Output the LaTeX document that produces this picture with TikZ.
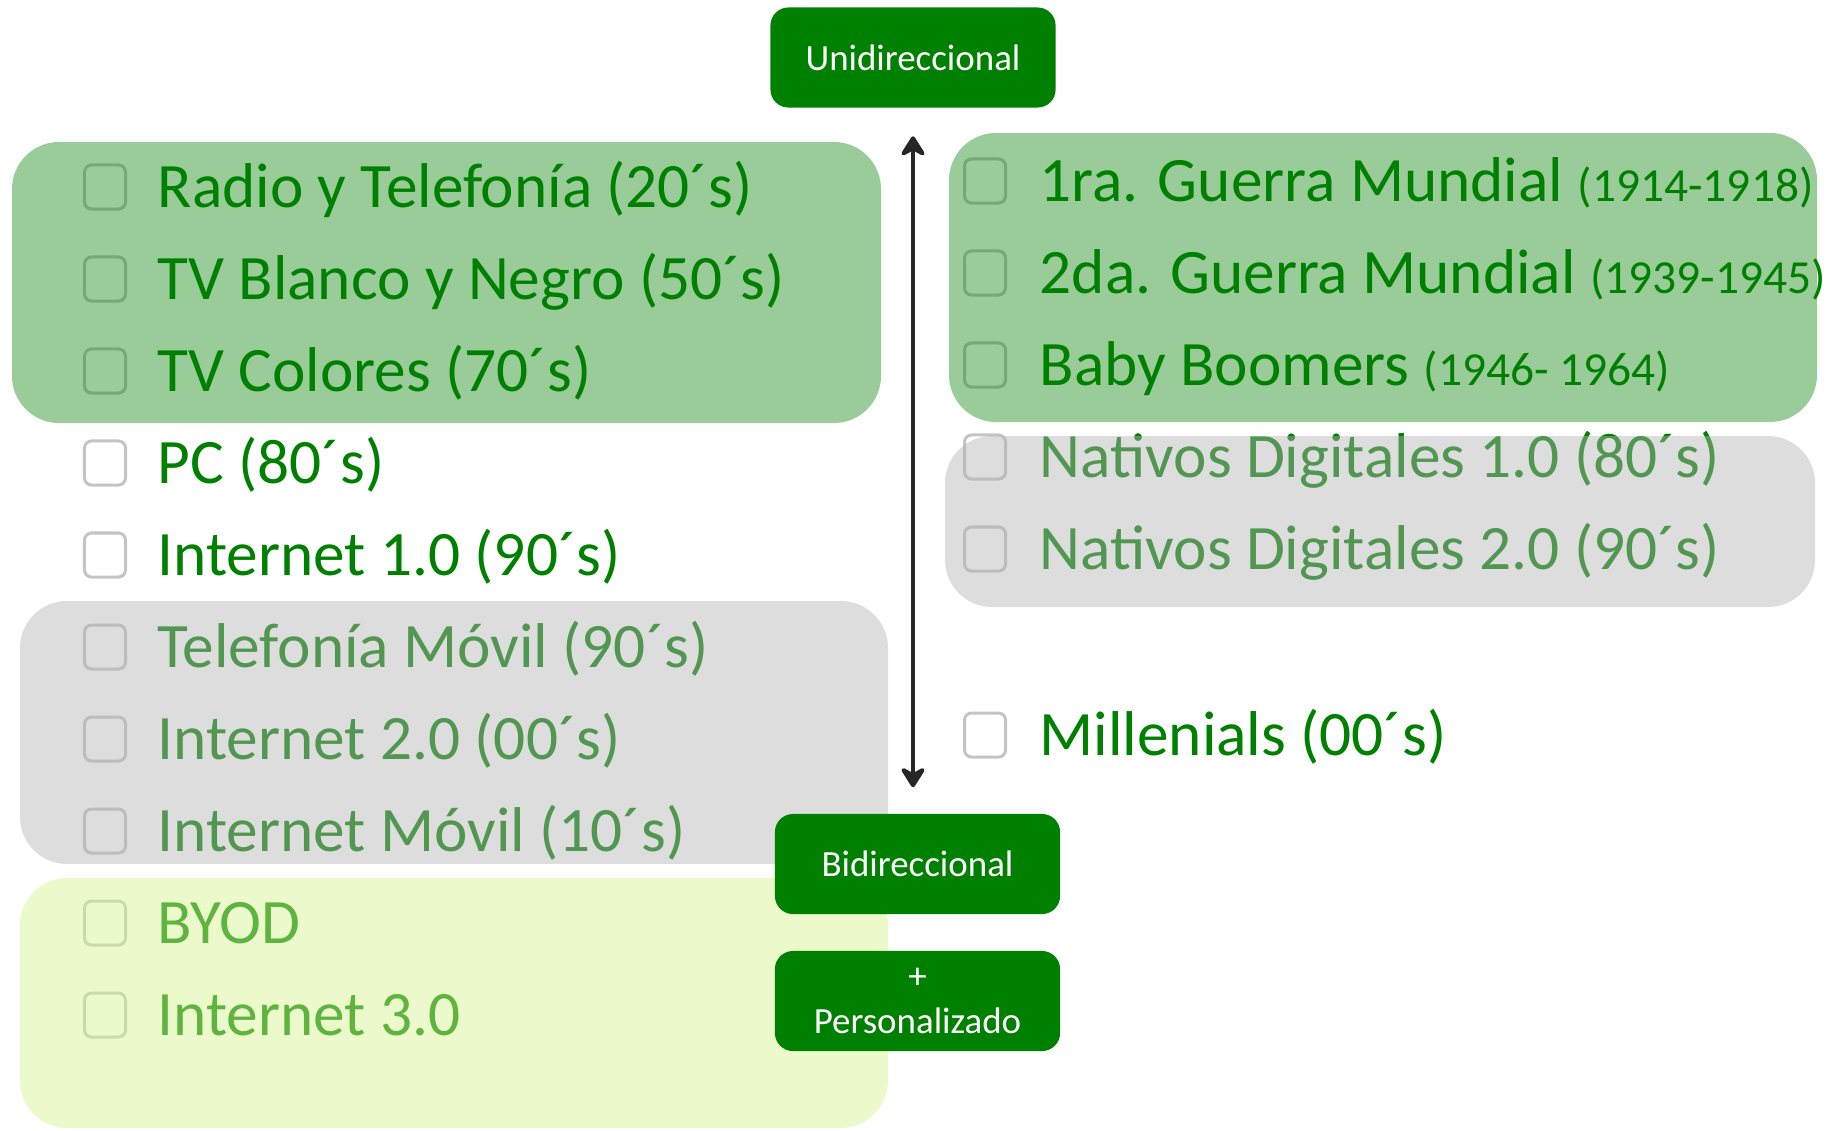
\documentclass[tikz,border=0pt]{standalone}
\usepackage{fontspec}
\setmainfont{Carlito}
\usetikzlibrary{arrows.meta}
\definecolor{verde}{RGB}{0,128,0}
\definecolor{caja}{RGB}{196,196,196}
\definecolor{gris}{RGB}{180,180,180}
\definecolor{lima}{RGB}{212,245,140}
\definecolor{flecha}{RGB}{38,38,38}
\newcommand{\periodo}[1]{{\fontsize{13.5}{15}\selectfont #1}}
\begin{document}
\begin{tikzpicture}[x=0.01cm, y=-0.01cm,
    chk/.style={draw=caja, fill=white, line width=0.03cm, rounded corners=0.07cm,
      minimum width=0.41cm, minimum height=0.44cm, inner sep=0},
    item/.style={anchor=base west, inner sep=0, text=verde,
      font=\fontsize{18}{20}\selectfont},
    etiqueta/.style={fill=verde, text=white, rounded corners=0.18cm,
      minimum width=2.85cm, minimum height=1.0cm, align=center,
      font=\fontsize{10.5}{12.6}\selectfont}]
  \useasboundingbox (0,0) rectangle (1843,1130);
  % tecnologias
  \draw
    (105,187) node[chk] (c1){}
    (105,279) node[chk] (c2){}
    (105,371) node[chk] (c3){}
    (105,463) node[chk] (c4){}
    (105,555) node[chk] (c5){}
    (105,647) node[chk] (c6){}
    (105,739) node[chk] (c7){}
    (105,831) node[chk] (c8){}
    (105,923) node[chk] (c9){}
    (105,1015) node[chk] (c10){};
  \draw
    (157,207) node[item] (t1){Radio y Telefonía (20´s)}
    (157,299) node[item] (t2){TV Blanco y Negro (50´s)}
    (157,391) node[item] (t3){TV Colores (70´s)}
    (157,483) node[item] (t4){PC (80´s)}
    (157,575) node[item] (t5){Internet 1.0 (90´s)}
    (157,667) node[item] (t6){Telefonía Móvil (90´s)}
    (157,759) node[item] (t7){Internet 2.0 (00´s)}
    (157,851) node[item] (t8){Internet Móvil (10´s)}
    (157,943) node[item] (t9){BYOD}
    (157,1035) node[item] (t10){Internet 3.0};
  % generaciones
  \draw
    (985,181) node[chk] (g1){}
    (985,273) node[chk] (g2){}
    (985,365) node[chk] (g3){}
    (985,457) node[chk] (g4){}
    (985,549) node[chk] (g5){}
    (985,735) node[chk] (g6){};
  \draw
    (1039,201) node[item] (n1){1ra. Guerra Mundial \periodo{(1914-1918)}}
    (1039,293) node[item] (n2){2da. Guerra Mundial \periodo{(1939-1945)}}
    (1039,385) node[item] (n3){Baby Boomers \periodo{(1946- 1964)}}
    (1039,477) node[item] (n4){Nativos Digitales 1.0 (80´s)}
    (1039,569) node[item] (n5){Nativos Digitales 2.0 (90´s)}
    (1039,755) node[item] (n6){Millenials (00´s)};
  % bandas
  \begin{scope}[rounded corners=0.47cm]
    \fill[verde, fill opacity=0.4] (12,142) rectangle (881,423);
    \fill[verde, fill opacity=0.4] (949,133) rectangle (1817,422);
    \fill[gris, fill opacity=0.45] (20,601) rectangle (888,864);
    \fill[gris, fill opacity=0.45] (945,436) rectangle (1815,607);
    \fill[lima, fill opacity=0.45] (20,878) rectangle (888,1128);
  \end{scope}
  \node[etiqueta] (uni) at (913,57.5) {Unidireccional};
  \node[etiqueta] (bi) at (917.5,864) {Bidireccional};
  \node[etiqueta] (pers) at (917.5,1001) {+\\Personalizado};
  \draw[flecha, line width=0.045cm, {Stealth[round,length=0.24cm,width=0.3cm,inset=0.08cm]}-{Stealth[round,length=0.24cm,width=0.3cm,inset=0.08cm]},
    shorten <=0.28cm, shorten >=0.26cm] (uni.south) -- (uni.south |- bi.north);
\end{tikzpicture}
\end{document}
